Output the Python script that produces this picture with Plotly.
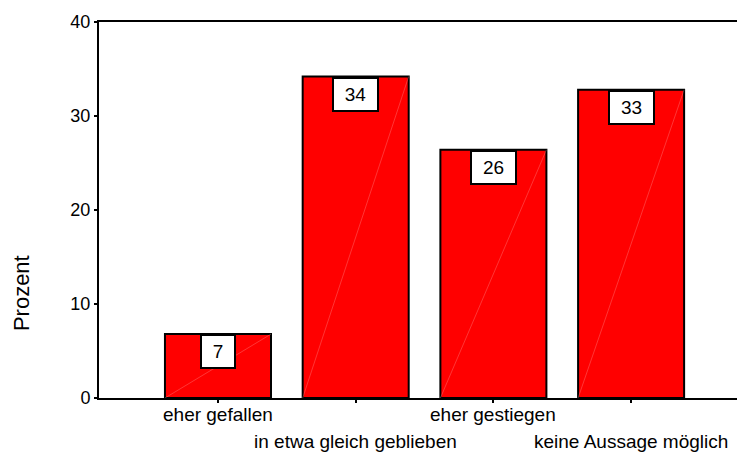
import plotly.graph_objects as go

categories = ["eher gefallen", "in etwa gleich geblieben", "eher gestiegen", "keine Aussage möglich"]
values = [6.8, 34.2, 26.4, 32.8]
labels = ["7", "34", "26", "33"]
y_ticks = [0, 10, 20, 30, 40]

FONT = "Liberation Sans, Arial, sans-serif"
x_pos = list(range(len(categories)))
bar_w = 0.77

fig = go.Figure()
fig.add_trace(go.Bar(
    x=x_pos, y=values, width=bar_w,
    marker=dict(color="#FF0000", line=dict(color="black", width=2)),
    hoverinfo="skip", showlegend=False,
))

shapes = []
annotations = []
for i, (v, lab, cat) in enumerate(zip(values, labels, categories)):
    # faint diagonal rendering line across each bar
    shapes.append(dict(type="line", xref="x", yref="y",
                       x0=i - bar_w / 2, y0=0, x1=i + bar_w / 2, y1=v,
                       line=dict(color="rgba(255,200,200,0.45)", width=0.6), layer="above"))
    w = 30 if len(lab) == 1 else 41
    annotations.append(dict(x=i, y=v, xref="x", yref="y", text=lab, showarrow=False,
                            yanchor="top", xanchor="center",
                            font=dict(family=FONT, size=19, color="black"),
                            bgcolor="white", bordercolor="black", borderwidth=2,
                            borderpad=1, width=w, height=29))
    annotations.append(dict(x=i, y=0, xref="x", yref="y", text=cat, showarrow=False,
                            yanchor="middle", xanchor="center",
                            yshift=-16 if i % 2 == 0 else -43,
                            font=dict(family=FONT, size=19, color="black")))

annotations.append(dict(x=0, y=0.279, xref="paper", yref="paper", text="Prozent",
                        showarrow=False, textangle=-90, xanchor="center", yanchor="middle",
                        xshift=-78, font=dict(family=FONT, size=22, color="black")))

fig.update_layout(
    width=737, height=452,
    margin=dict(l=99, r=0, t=22, b=54),
    paper_bgcolor="white", plot_bgcolor="white",
    shapes=shapes, annotations=annotations,
    font=dict(family=FONT, color="black"),
    xaxis=dict(range=[-0.864, 3.769], tickvals=x_pos, showticklabels=False,
               showline=True, linecolor="black", linewidth=2, mirror=True,
               ticks="outside", ticklen=3, tickwidth=2, tickcolor="black",
               showgrid=False, zeroline=False, fixedrange=True),
    yaxis=dict(range=[0, 40], tickvals=y_ticks, showline=True, linecolor="black", linewidth=2,
               ticks="outside", ticklen=3, tickwidth=2, tickcolor="black",
               tickfont=dict(family=FONT, size=18, color="black"),
               showgrid=False, zeroline=False, fixedrange=True),
)

fig.write_html("out.html", config={"displayModeBar": False},
               post_script="document.body.style.margin='0';document.body.style.overflow='hidden';")
